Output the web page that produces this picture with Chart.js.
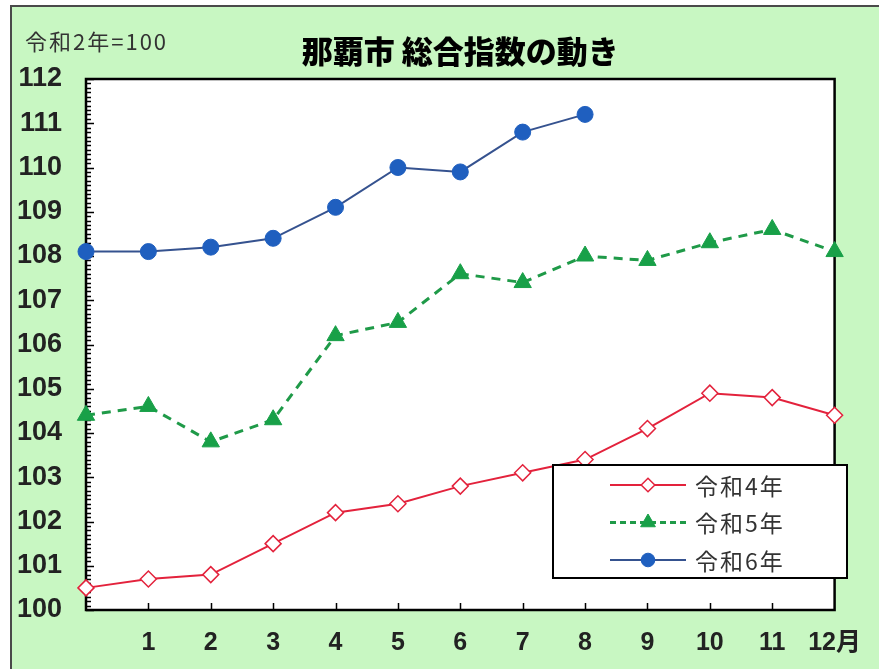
<!DOCTYPE html>
<html>
<head>
<meta charset="utf-8">
<script src="https://cdn.jsdelivr.net/npm/chart.js@4.4.1/dist/chart.umd.min.js"></script>
<style>
  html, body { margin: 0; padding: 0; background: #fff; }
  #wrap { width: 879px; height: 669px; }
</style>
</head>
<body>
<div id="wrap"><canvas id="cpi-chart" width="879" height="669"></canvas></div>
<script>
// 月 (index 0 = 前年12月, no label)
const months = ['', '1', '2', '3', '4', '5', '6', '7', '8', '9', '10', '11', '12月'];
const seriesNames = ['令和4年', '令和5年', '令和6年'];
const reiwa4 = [100.5, 100.7, 100.8, 101.5, 102.2, 102.4, 102.8, 103.1, 103.4, 104.1, 104.9, 104.8, 104.4];
const reiwa5 = [104.4, 104.6, 103.8, 104.3, 106.2, 106.5, 107.6, 107.4, 108.0, 107.9, 108.3, 108.6, 108.1];
const reiwa6 = [108.1, 108.1, 108.2, 108.4, 109.1, 110.0, 109.9, 110.8, 111.2, null, null, null, null];
const yTicks = [100, 101, 102, 103, 104, 105, 106, 107, 108, 109, 110, 111, 112];
const titleText = '那覇市 総合指数の動き';
const baseNote = '令和2年=100';

const numFont = '"Liberation Sans", "Noto Sans CJK JP", sans-serif';
const jpFont = '"Noto Sans CJK JP", sans-serif';

// background, plot frame, inward ticks, texts
const decor = {
    id: 'decor',
    beforeDraw(chart) {
        const ctx = chart.ctx;
        const a = chart.chartArea;
        ctx.save();
        ctx.fillStyle = '#ffffff';
        ctx.fillRect(0, 0, chart.width, chart.height);
        ctx.fillStyle = '#c8f7c2';
        ctx.fillRect(11, 6, chart.width - 11, chart.height - 6);
        ctx.strokeStyle = '#4a4a4a';
        ctx.lineWidth = 2;
        ctx.beginPath();
        ctx.moveTo(11, chart.height);
        ctx.lineTo(11, 6);
        ctx.lineTo(chart.width, 6);
        ctx.stroke();
        ctx.fillStyle = '#ffffff';
        ctx.fillRect(a.left, a.top, a.right - a.left, a.bottom - a.top);

        ctx.fillStyle = '#000';
        ctx.font = '900 31px ' + jpFont;
        ctx.textAlign = 'center';
        ctx.textBaseline = 'middle';
        ctx.fillText(titleText, (a.left + a.right) / 2, 51);

        ctx.fillStyle = '#333';
        ctx.font = '22px ' + jpFont;
        ctx.letterSpacing = '2px';
        ctx.textAlign = 'left';
        ctx.fillText(baseNote, 25, 42);
        ctx.restore();
    },
    beforeDatasetsDraw(chart) {
        const ctx = chart.ctx;
        const a = chart.chartArea;
        const y = chart.scales.y;
        const x = chart.scales.x;
        ctx.save();
        ctx.strokeStyle = '#000';
        ctx.lineWidth = 1.5;
        ctx.beginPath();
        for (let i = 0; i <= 120; i++) {
            const v = y.min + i / 10;
            const py = Math.round(y.getPixelForValue(v)) + 0.5;
            const len = (i % 10 === 0) ? 8 : 5;
            ctx.moveTo(a.left, py);
            ctx.lineTo(a.left + len, py);
        }
        for (let i = 1; i < months.length - 1; i++) {
            const px = Math.round(x.getPixelForValue(i)) + 0.5;
            ctx.moveTo(px, a.bottom);
            ctx.lineTo(px, a.bottom - 7);
        }
        ctx.stroke();
        ctx.lineWidth = 2.5;
        ctx.strokeRect(a.left, a.top, a.right - a.left, a.bottom - a.top);
        ctx.restore();
    },
    afterDraw(chart) {
        // legend box
        const ctx = chart.ctx;
        const box = { left: 553, top: 465, width: 294, height: 113 };
        ctx.save();
        ctx.fillStyle = '#fff';
        ctx.fillRect(box.left, box.top, box.width, box.height);
        ctx.strokeStyle = '#000';
        ctx.lineWidth = 2;
        ctx.strokeRect(box.left, box.top, box.width, box.height);
        chart.data.datasets.forEach((ds, i) => {
            const cy = box.top + 20 + i * 37.5;
            ctx.strokeStyle = ds.borderColor;
            ctx.lineWidth = ds.borderWidth;
            ctx.setLineDash(ds.borderDash ? [6, 4] : []);
            ctx.beginPath();
            ctx.moveTo(610, cy);
            ctx.lineTo(686, cy);
            ctx.stroke();
            ctx.setLineDash([]);
            ctx.fillStyle = ds.pointBackgroundColor;
            ctx.strokeStyle = ds.pointBorderColor;
            ctx.lineWidth = ds.pointBorderWidth;
            Chart.helpers.drawPoint(ctx, {
                pointStyle: ds.pointStyle,
                radius: ds.pointRadius * 0.85,
                rotation: 0,
                borderWidth: ds.pointBorderWidth
            }, 648, cy);
            ctx.fillStyle = '#333';
            ctx.font = '23px ' + jpFont;
            ctx.letterSpacing = '2px';
            ctx.textAlign = 'left';
            ctx.textBaseline = 'middle';
            ctx.fillText(ds.label, 695, cy + 1);
            ctx.letterSpacing = '0px';
        });
        ctx.restore();
    }
};

new Chart(document.getElementById('cpi-chart'), {
    type: 'line',
    data: {
        labels: months,
        datasets: [
            {
                label: seriesNames[0],
                data: reiwa4,
                borderColor: '#e3223c',
                borderWidth: 2,
                pointStyle: 'rectRot',
                pointRadius: 8,
                pointBackgroundColor: '#ffffff',
                pointBorderColor: '#e3223c',
                pointBorderWidth: 1.5,
                tension: 0,
                clip: false
            },
            {
                label: seriesNames[1],
                data: reiwa5,
                borderColor: '#1f9a48',
                borderWidth: 3,
                borderDash: [9, 7],
                pointStyle: 'triangle',
                pointRadius: 10,
                pointBackgroundColor: '#18a048',
                pointBorderColor: '#18a048',
                pointBorderWidth: 1,
                tension: 0,
                clip: false
            },
            {
                label: seriesNames[2],
                data: reiwa6,
                borderColor: '#35528f',
                borderWidth: 2,
                pointStyle: 'circle',
                pointRadius: 8,
                pointBackgroundColor: '#1f5fbf',
                pointBorderColor: '#1f5fbf',
                pointBorderWidth: 1,
                tension: 0,
                spanGaps: false,
                clip: false
            }
        ]
    },
    options: {
        responsive: false,
        animation: false,
        layout: { padding: { left: 0, top: 79, right: 42, bottom: 0 } },
        plugins: {
            legend: { display: false },
            title: { display: false },
            tooltip: { enabled: false }
        },
        scales: {
            x: {
                offset: false,
                grid: { display: false, drawTicks: false },
                border: { display: false },
                ticks: {
                    autoSkip: false,
                    maxRotation: 0,
                    padding: 18,
                    color: '#222',
                    font: { family: numFont, size: 25, weight: 'bold' }
                },
                afterFit(scale) { scale.height = 59; }
            },
            y: {
                min: 100,
                max: 112,
                grid: { display: false, drawTicks: false },
                border: { display: false },
                afterBuildTicks(scale) { scale.ticks = yTicks.map(v => ({ value: v })); },
                ticks: {
                    padding: 24,
                    color: '#222',
                    font: { family: numFont, size: 27, weight: 'bold' }
                },
                afterFit(scale) { scale.width = 86; }
            }
        }
    },
    plugins: [decor]
});
</script>
</body>
</html>
